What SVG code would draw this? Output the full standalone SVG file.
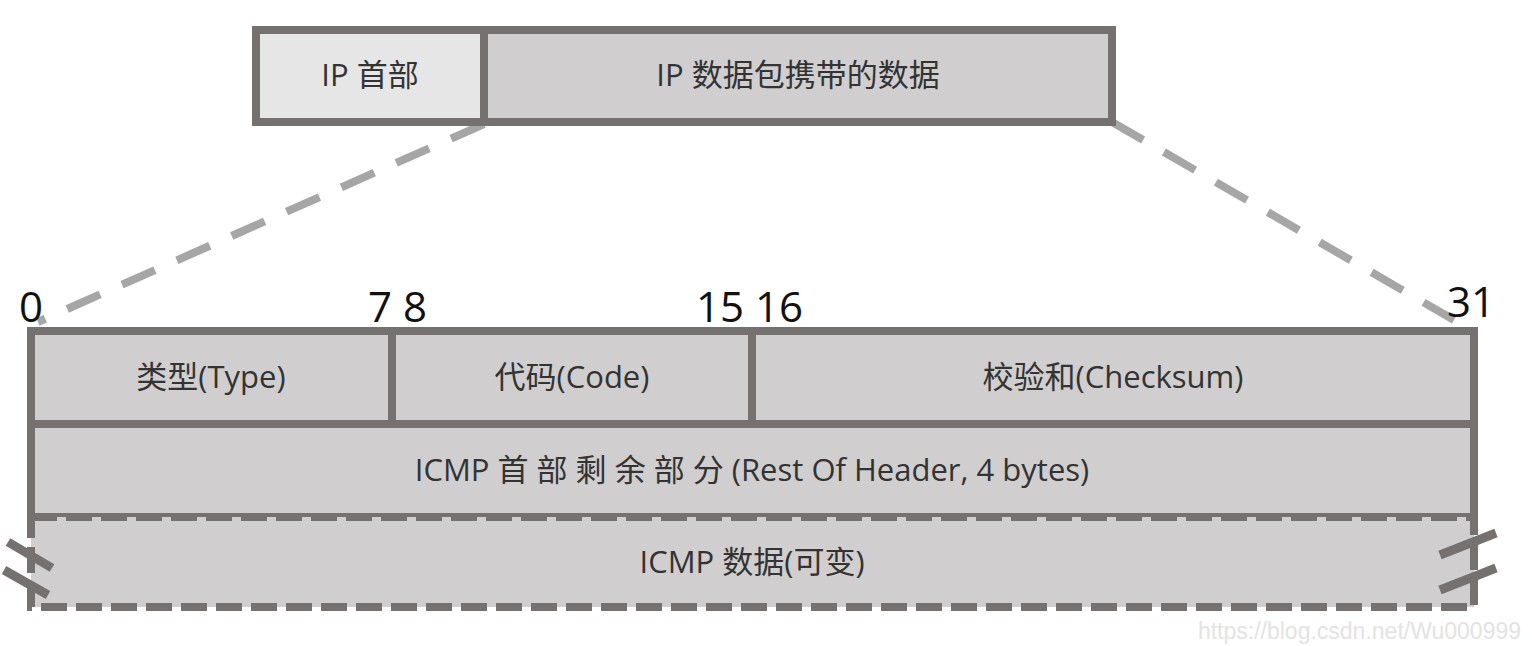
<svg xmlns="http://www.w3.org/2000/svg" width="1532" height="646" viewBox="0 0 1532 646">
<style>
.box{fill:#d0cecf;stroke:#767171;stroke-width:8}
.light{fill:#e7e6e6}
.t{font-family:"Open Sans","Noto Sans CJK SC",sans-serif;font-size:31px;fill:#333;text-anchor:middle}
.n{font-family:"Open Sans","Noto Sans CJK SC",sans-serif;font-size:42px;fill:#111;text-anchor:middle}
.conn{stroke:#a6a6a6;stroke-width:8;stroke-dasharray:36 24;fill:none}
.brk{stroke:#767171;stroke-width:9;fill:none}
</style>
<rect width="1532" height="646" fill="#fff"/>
<g id="connectors">
<line class="conn" x1="484" y1="124" x2="38" y2="322"/>
<line class="conn" x1="1112" y1="122" x2="1454" y2="320"/>
</g>
<g id="ip-header">
<rect class="box light" x="256" y="30" width="228" height="92"/>
<text class="t" x="370" y="86">IP 首部</text>
</g>
<g id="ip-data">
<rect class="box" x="484" y="30" width="628" height="92"/>
<text class="t" x="798" y="86">IP 数据包携带的数据</text>
</g>
<g id="bits">
<text class="n" x="31" y="322">0</text>
<text class="n" x="380" y="322">7</text>
<text class="n" x="415" y="322">8</text>
<text class="n" x="720" y="322">15</text>
<text class="n" x="779" y="322">16</text>
<text class="n" x="1471" y="317">31</text>
</g>
<g id="type">
<rect class="box" x="31" y="331" width="361" height="93"/>
<text class="t" x="211" y="388">类型(Type)</text>
</g>
<g id="code">
<rect class="box" x="392" y="331" width="360" height="93"/>
<text class="t" x="572" y="388">代码(Code)</text>
</g>
<g id="checksum">
<rect class="box" x="752" y="331" width="722" height="93"/>
<text class="t" x="1113" y="388">校验和(Checksum)</text>
</g>
<g id="rest">
<rect class="box" x="31" y="424" width="1443" height="93"/>
<text class="t" x="752" y="481">ICMP 首 部 剩 余 部 分 (Rest Of Header, 4 bytes)</text>
</g>
<g id="data">
<rect class="box" x="31" y="517" width="1443" height="90" stroke-dasharray="26 9"/>
<text class="t" x="752" y="573">ICMP 数据(可变)</text>
<line class="brk" x1="8" y1="542" x2="52" y2="568"/>
<line class="brk" x1="4" y1="570" x2="48" y2="595"/>
<line class="brk" x1="1440" y1="555" x2="1496" y2="533"/>
<line class="brk" x1="1440" y1="590" x2="1496" y2="568"/>
</g>
<text x="1521" y="639" font-family="Liberation Sans, Arial, sans-serif" font-size="23" fill="#e3e3e3" text-anchor="end">https://blog.csdn.net/Wu000999</text>
</svg>
